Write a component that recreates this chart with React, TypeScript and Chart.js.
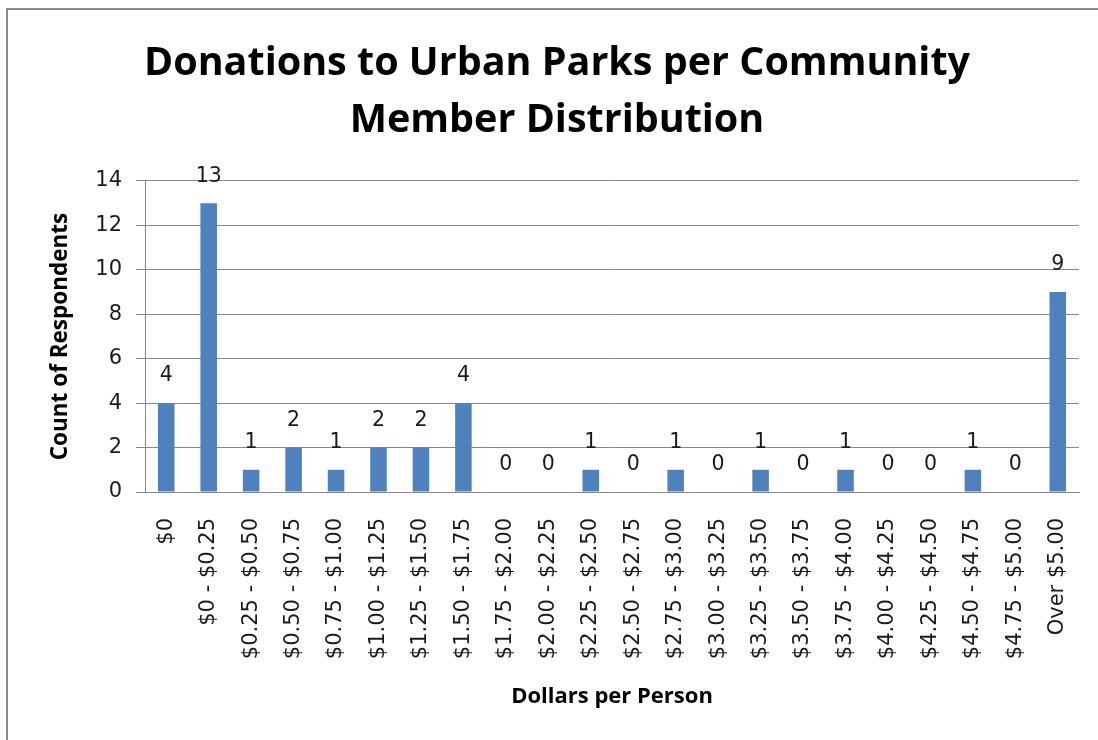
import React, { useEffect, useRef } from "react";
import { Chart, registerables } from "chart.js";

Chart.register(...registerables);

const categories: string[] = [
  "$0",
  "$0 - $0.25",
  "$0.25 - $0.50",
  "$0.50 - $0.75",
  "$0.75 - $1.00",
  "$1.00 - $1.25",
  "$1.25 - $1.50",
  "$1.50 - $1.75",
  "$1.75 - $2.00",
  "$2.00 - $2.25",
  "$2.25 - $2.50",
  "$2.50 - $2.75",
  "$2.75 - $3.00",
  "$3.00 - $3.25",
  "$3.25 - $3.50",
  "$3.50 - $3.75",
  "$3.75 - $4.00",
  "$4.00 - $4.25",
  "$4.25 - $4.50",
  "$4.50 - $4.75",
  "$4.75 - $5.00",
  "Over $5.00",
];

const counts: number[] = [4, 13, 1, 2, 1, 2, 2, 4, 0, 0, 1, 0, 1, 0, 1, 0, 1, 0, 0, 1, 0, 9];

const titleLines: string[] = ["Donations to Urban Parks per Community", "Member Distribution"];
const xTitle = "Dollars per Person";
const yTitle = "Count of Respondents";
const yMin = 0;
const yMax = 14;
const yStep = 2;

const BOLD_FONT = "'Open Sans', sans-serif";
const TEXT_FONT = "'DejaVu Sans', sans-serif";
const GRID = "#888888";
const TEXT = "#1a1a1a";

const dataLabelPlugin = {
  id: "dataLabels",
  afterDatasetsDraw(chart: any) {
    const ctx = chart.ctx;
    const meta = chart.getDatasetMeta(0);
    ctx.save();
    ctx.font = `20.5px ${TEXT_FONT}`;
    ctx.fillStyle = TEXT;
    ctx.textAlign = "center";
    ctx.textBaseline = "middle";
    meta.data.forEach((bar: any, i: number) => {
      const v = chart.data.datasets[0].data[i];
      ctx.fillText(String(v), bar.x, bar.y - 27);
    });
    ctx.restore();
  },
};

export default function App() {
  const canvasRef = useRef<HTMLCanvasElement | null>(null);

  useEffect(() => {
    if (!canvasRef.current) return;
    const chart = new Chart(canvasRef.current, {
      type: "bar",
      data: {
        labels: categories,
        datasets: [
          {
            data: counts,
            backgroundColor: "#4F81BD",
            borderWidth: 0,
            barPercentage: 0.39,
            categoryPercentage: 1,
          },
        ],
      },
      options: {
        responsive: false,
        animation: false,
        events: [],
        layout: { padding: { left: 35, right: 19, top: 10, bottom: 0 } },
        plugins: {
          legend: { display: false },
          tooltip: { enabled: false },
          title: {
            display: true,
            text: titleLines,
            color: "#000",
            font: { family: BOLD_FONT, size: 39.5, weight: "bold", lineHeight: 1.43 },
            padding: { top: 26, bottom: 32 },
          },
        },
        scales: {
          x: {
            grid: { display: false, drawTicks: false },
            border: { display: true, color: GRID, width: 1 },
            ticks: {
              color: TEXT,
              font: { family: TEXT_FONT, size: 21 },
              minRotation: 90,
              maxRotation: 90,
              autoSkip: false,
              padding: 26,
            },
            title: {
              display: true,
              text: xTitle,
              color: "#000",
              font: { family: BOLD_FONT, size: 22, weight: "bold", lineHeight: 1.2 },
              padding: { top: 0, bottom: 30 },
            },
            afterFit(scale: any) {
              scale.height = 248;
              scale.paddingLeft = 0;
              scale.paddingRight = 0;
            },
          },
          y: {
            min: yMin,
            max: yMax,
            grid: { color: GRID, lineWidth: 1, drawTicks: true, tickLength: 9 },
            border: { display: true, color: GRID, width: 1 },
            ticks: {
              stepSize: yStep,
              color: TEXT,
              font: { family: TEXT_FONT, size: 21 },
              padding: 14,
            },
            title: {
              display: true,
              text: yTitle,
              color: "#000",
              font: { family: BOLD_FONT, size: 22.5, weight: "bold", lineHeight: 1.2 },
              padding: { top: 12, bottom: 0 },
            },
            afterFit(scale: any) {
              scale.width = 110;
            },
          },
        },
      },
      plugins: [dataLabelPlugin],
    });
    return () => chart.destroy();
  }, []);

  return (
    <div
      style={{
        position: "fixed",
        left: 0,
        top: 0,
        width: 1098,
        height: 740,
        overflow: "hidden",
        background: "#fff",
      }}
    >
      <div
        style={{
          position: "absolute",
          left: 6,
          top: 8,
          width: 1300,
          height: 1000,
          border: "2px solid #8a8a8a",
          boxSizing: "border-box",
        }}
      />
      <canvas
        ref={canvasRef}
        width={1098}
        height={740}
        style={{ position: "absolute", left: 0, top: 0, width: 1098, height: 740 }}
      />
    </div>
  );
}
